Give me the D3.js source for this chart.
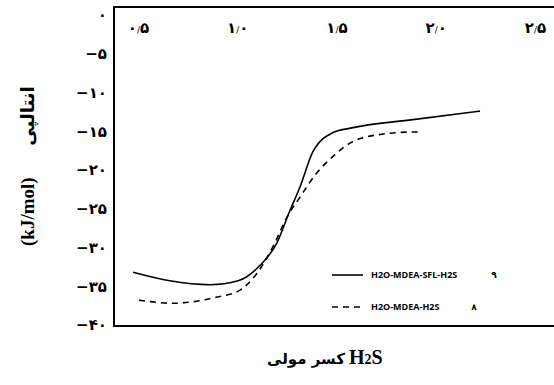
<!DOCTYPE html>
<html><head><meta charset="utf-8">
<script src="https://cdn.jsdelivr.net/npm/d3@7"></script>
<style>
html,body{margin:0;padding:0;background:#fff;}
svg{display:block;}
</style></head>
<body>
<svg id="chart" width="554" height="385"></svg>
<script>
// ---- data ----
const xTickValues = [0.5, 1.0, 1.5, 2.0, 2.5];
const xTickLabels = ["۰/۵", "۱/۰", "۱/۵", "۲/۰", "۲/۵"];
const yTickValues = [0, -5, -10, -15, -20, -25, -30, -35, -40];
const yTickLabels = ["۰", "−۵", "−۱۰", "−۱۵", "−۲۰", "−۲۵", "−۳۰", "−۳۵", "−۴۰"];

const sflX = [0.475, 0.66, 0.863, 1.004, 1.115, 1.20, 1.266, 1.316, 1.38, 1.48, 1.57, 1.885, 2.223];
const sflY = [-33.2, -34.3, -34.8, -34.3, -32.3, -29.4, -25.2, -22.2, -17.7, -15.2, -14.6, -13.5, -12.4];
const baseX = [0.505, 0.676, 0.777, 0.878, 1.014, 1.10, 1.18, 1.25, 1.316, 1.40, 1.48, 1.57, 1.654, 1.885, 1.91];
const baseY = [-36.8, -37.2, -37.0, -36.5, -35.5, -33.3, -29.9, -26.1, -23.5, -20.4, -18.3, -16.5, -15.7, -15.1, -15.1];

const seriesNames = ["H2O-MDEA-SFL-H2S", "H2O-MDEA-H2S"];
const seriesNums = ["۹", "۸"];

// ---- chart ----
const svg = d3.select("#chart");
const x = d3.scaleLinear().domain([0.5, 2.5]).range([138, 535]);
const y = d3.scaleLinear().domain([0, -40]).range([15, 325]);

// frame
svg.append("path").attr("d", "M554,7H114V326H554")
  .attr("stroke", "#000").attr("stroke-width", 2).attr("fill", "none");

// y axis
const yAxis = d3.axisLeft(y).tickValues(yTickValues)
  .tickFormat((d, i) => yTickLabels[i]).tickSize(0).tickPadding(7);
const gy = svg.append("g").attr("transform", "translate(114,0)").call(yAxis);
gy.select(".domain").remove();
gy.selectAll("text").attr("font-family", "DejaVu Sans").attr("font-weight", "bold")
  .attr("font-size", 15).attr("fill", "#000");

// x axis (labels on top inside the frame)
const xAxis = d3.axisBottom(x).tickValues(xTickValues)
  .tickFormat((d, i) => xTickLabels[i]).tickSize(0).tickPadding(0);
const gx = svg.append("g").attr("transform", "translate(0,22)").call(xAxis);
gx.select(".domain").remove();
gx.selectAll("text").each(function(d, i) {
  const t = d3.select(this);
  const parts = xTickLabels[i].split("/");
  t.text(null).attr("font-family", "DejaVu Sans").attr("font-weight", "bold")
    .attr("font-size", 15).attr("fill", "#000").attr("direction", "ltr");
  t.append("tspan").text(parts[0]);
  t.append("tspan").attr("font-size", 9).attr("font-weight", "normal").text("/");
  t.append("tspan").text(parts[1]);
});

// lines
const line = d3.line().x(d => x(d[0])).y(d => y(d[1])).curve(d3.curveMonotoneX);
const sfl = d3.zip(sflX, sflY);
const base = d3.zip(baseX, baseY);
svg.append("path").datum(sfl).attr("d", line).attr("fill", "none")
  .attr("stroke", "#000").attr("stroke-width", 1.6);
svg.append("path").datum(base).attr("d", line).attr("fill", "none")
  .attr("stroke", "#000").attr("stroke-width", 1.6).attr("stroke-dasharray", "6,5");

// legend
const legY = [275, 307];
const leg = svg.append("g");
seriesNames.forEach((name, i) => {
  leg.append("line").attr("x1", 332).attr("x2", 363).attr("y1", legY[i]).attr("y2", legY[i])
    .attr("stroke", "#000").attr("stroke-width", 1.6)
    .attr("stroke-dasharray", i === 1 ? "6,5" : null);
  leg.append("text").attr("x", 371).attr("y", legY[i]).attr("dy", "0.35em")
    .attr("font-family", "Open Sans").attr("font-weight", "bold").attr("font-size", 9)
    .attr("fill", "#000").text(name);
  leg.append("text").attr("x", i === 0 ? 494 : 474).attr("y", legY[i]).attr("dy", "0.35em")
    .attr("text-anchor", "middle")
    .attr("font-family", "DejaVu Sans").attr("font-weight", "bold").attr("font-size", 9)
    .attr("fill", "#000").text(seriesNums[i]);
});

// x title: Persian words on the left, H2S on the right
svg.append("text").attr("x", 345).attr("y", 364).attr("text-anchor", "end")
  .attr("font-family", "DejaVu Sans").attr("font-weight", "bold").attr("font-size", 15)
  .attr("fill", "#000").text("کسر مولی");
const h2s = svg.append("text").attr("x", 349).attr("y", 364).attr("text-anchor", "start")
  .attr("font-family", "Liberation Serif").attr("font-weight", "bold").attr("fill", "#000");
h2s.append("tspan").attr("font-size", 20).text("H");
h2s.append("tspan").attr("font-size", 14).text("2");
h2s.append("tspan").attr("font-size", 20).text("S");

// y title (reads bottom to top): "(kJ/mol)" below, Persian word above
svg.append("text").attr("transform", "translate(34,246) rotate(-90)")
  .attr("text-anchor", "start").attr("font-family", "Liberation Serif")
  .attr("font-weight", "bold").attr("font-size", 19).attr("fill", "#000").text("(kJ/mol)");
svg.append("text").attr("transform", "translate(34,116) rotate(-90)")
  .attr("text-anchor", "middle").attr("font-family", "DejaVu Sans")
  .attr("font-weight", "bold").attr("font-size", 18).attr("fill", "#000").text("انتالپی");
</script>
</body></html>
